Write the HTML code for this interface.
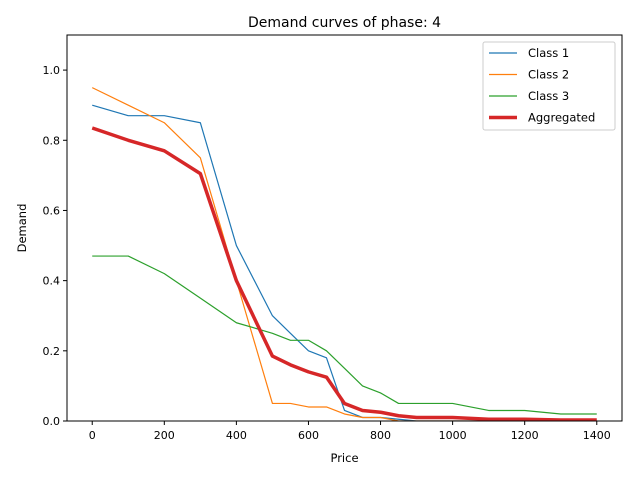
<!DOCTYPE html>
<html><head><meta charset="utf-8"><style>body{margin:0;background:#fff}svg{display:block;font-family:"DejaVu Sans","Liberation Sans",sans-serif}</style></head>
<body>
<svg id="chart" width="640" height="480">
<rect width="640" height="480" fill="#fff"/>
<g id="plot"></g>
</svg>
<script>
const prices=[0,100,200,300,400,500,550,600,650,700,750,800,850,900,1000,1100,1200,1300,1400];
const class1=[0.90,0.87,0.87,0.85,0.50,0.30,0.25,0.20,0.18,0.03,0.01,0.01,0.005,0,0,0,0,0,0];
const class2=[0.95,0.90,0.85,0.75,0.40,0.05,0.05,0.04,0.04,0.02,0.01,0.01,0,0,0,0,0,0,0];
const class3=[0.47,0.47,0.42,0.35,0.28,0.25,0.23,0.23,0.20,0.15,0.10,0.08,0.05,0.05,0.05,0.03,0.03,0.02,0.02];
const aggregated=[0.835,0.80,0.77,0.705,0.40,0.185,0.16,0.14,0.125,0.05,0.03,0.025,0.015,0.01,0.01,0.005,0.005,0.003,0.003];
const xTicks=[0,200,400,600,800,1000,1200,1400];
const yTicks=[0.0,0.2,0.4,0.6,0.8,1.0];
const seriesNames=["Class 1","Class 2","Class 3","Aggregated"];
const NS="http://www.w3.org/2000/svg";
const L=67,R=622,T=35,B=421,xmin=-70,xmax=1470,ymin=0,ymax=1.1;
const sx=v=>L+(v-xmin)/(xmax-xmin)*(R-L);
const sy=v=>B-(v-ymin)/(ymax-ymin)*(B-T);
const g=document.getElementById('plot');
function mk(t,a,p){const e=document.createElementNS(NS,t);for(const k in a)e.setAttribute(k,a[k]);(p||g).appendChild(e);return e;}
const clip=mk('clipPath',{id:'c'});mk('rect',{x:L,y:T,width:R-L,height:B-T},clip);
const series=[[class1,'#1f77b4',1.2],[class2,'#ff7f0e',1.2],[class3,'#2ca02c',1.2],[aggregated,'#d62728',3.5]];
series.forEach((s,i)=>{
 const p=mk('polyline',{points:prices.map((x,j)=>sx(x)+','+sy(s[0][j])).join(' '),fill:'none',stroke:s[1],'stroke-width':s[2],'clip-path':'url(#c)','stroke-linejoin':'round'});
 
 
});
const frame=mk('rect',{x:L,y:T,width:R-L,height:B-T,fill:'none',stroke:'#000','stroke-width':1});


xTicks.forEach(v=>{const x=sx(v);mk('line',{x1:x,x2:x,y1:B,y2:B+4,stroke:'#000'});
 const t=mk('text',{x:x,y:B+18,'text-anchor':'middle','font-size':11});t.textContent=v;
 
 });
yTicks.forEach(v=>{const y=sy(v);mk('line',{x1:L-4,x2:L,y1:y,y2:y,stroke:'#000'});
 const t=mk('text',{x:L-7,y:y+4,'text-anchor':'end','font-size':11});t.textContent=v.toFixed(1);
 
 });
const tt=mk('text',{x:(L+R)/2,y:27,'text-anchor':'middle','font-size':14});tt.textContent='Demand curves of phase: 4';


const xl=mk('text',{x:(L+R)/2,y:462,'text-anchor':'middle','font-size':11.5});xl.textContent='Price';


const yl=mk('text',{x:0,y:0,'text-anchor':'middle','font-size':11.5,transform:'translate(26,'+((T+B)/2)+') rotate(-90)'});yl.textContent='Demand';


const lg=mk('g',{});


mk('rect',{x:483,y:42,width:132,height:88,rx:2,fill:'#fff',stroke:'#ccc'},lg);
series.forEach((s,i)=>{const y=53+i*21.5;
 mk('line',{x1:489,x2:517,y1:y,y2:y,stroke:s[1],'stroke-width':s[2]},lg);
 const t=mk('text',{x:528,y:y+4,'font-size':11.5},lg);t.textContent=seriesNames[i];
 
 });
</script>
</body></html>
